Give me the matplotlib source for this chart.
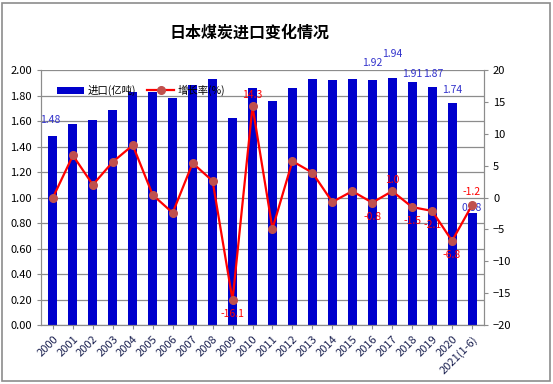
import matplotlib.pyplot as plt
import numpy as np
from matplotlib.patches import Rectangle

plt.rcParams['font.family'] = ['Noto Sans CJK SC', 'DejaVu Sans']

# data
years = ["2000", "2001", "2002", "2003", "2004", "2005", "2006", "2007", "2008", "2009", "2010",
         "2011", "2012", "2013", "2014", "2015", "2016", "2017", "2018", "2019", "2020", "2021(1-6)"]
imports = [1.48, 1.58, 1.61, 1.69, 1.83, 1.83, 1.78, 1.88, 1.93, 1.62, 1.86,
           1.76, 1.86, 1.93, 1.92, 1.93, 1.92, 1.94, 1.91, 1.87, 1.74, 0.88]
growth = [0.0, 6.6, 2.0, 5.6, 8.2, 0.4, -2.4, 5.4, 2.6, -16.1, 14.3,
          -4.9, 5.7, 3.9, -0.7, 1.0, -0.8, 1.0, -1.5, -2.1, -6.8, -1.2]

# which points carry a value label, and pixel offset of the label centre
bar_labels = {0: (-3, 16), 16: (0, 17), 17: (0, 24), 18: (0, 8), 19: (1, 13), 20: (0, 13), 21: (0, 5)}
line_labels = {9: (0, -14), 10: (0, 11), 16: (0, -14), 17: (0, 11), 18: (0, -14),
               19: (0, -14), 20: (0, -14), 21: (0, 13)}

fig = plt.figure(figsize=(5.53, 3.84), dpi=100)
ax = fig.add_axes([0.0741, 0.1536, 0.8011, 0.664])
ax2 = ax.twinx()

x = np.arange(len(years))
bars = ax.bar(x, imports, width=0.45, color='#0000cc', label='进口(亿吨)', zorder=2)
line, = ax2.plot(x, growth, color='#ff0000', lw=1.6, marker='o', ms=5.5,
                 mfc='#c0504d', mec='#c0504d', label='增长率(%)', zorder=3)

ax.set_ylim(0, 2.0)
ax.set_yticks(np.arange(0, 2.01, 0.2))
ax.set_yticklabels([f"{v:.2f}" for v in np.arange(0, 2.01, 0.2)])
ax2.set_ylim(-20, 20)
ax2.set_yticks(range(-20, 21, 5))
ax.set_xlim(-0.6, len(years) - 0.4)
ax.set_xticks(x)
ax.set_xticklabels(years, rotation=45, ha='right', rotation_mode='anchor', color='#1a2050')

ax.grid(axis='y', color='#8c8c8c', lw=0.9, zorder=0)
ax.set_axisbelow(True)
for a in (ax, ax2):
    for s in a.spines.values():
        s.set_color('#8c8c8c')
    a.tick_params(labelsize=8, length=3, color='#8c8c8c')
ax2.spines['top'].set_visible(False)
ax.spines['top'].set_visible(False)

for i, (dx, dy) in bar_labels.items():
    ax.annotate(f"{imports[i]:.2f}", (x[i], imports[i]), xytext=(dx, dy),
                textcoords='offset pixels', ha='center', va='center', color='#3333cc', fontsize=7.5)
for i, (dx, dy) in line_labels.items():
    ax2.annotate(f"{growth[i]:.1f}", (x[i], growth[i]), xytext=(dx, dy),
                 textcoords='offset pixels', ha='center', va='center', color='#ff0000', fontsize=7.5,
                 zorder=4)

ax.legend([bars, line], ['进口(亿吨)', '增长率(%)'], loc='center left', ncol=2, frameon=False,
          fontsize=7.5, bbox_to_anchor=(0.015, 0.92), handlelength=2.6, columnspacing=1.1,
          handletextpad=0.3)

fig.text(0.452, 0.915, '日本煤炭进口变化情况', ha='center', va='center', fontsize=11.5, fontweight='bold')
fig.patches.append(Rectangle((0.004, 0.008), 0.99, 0.985, transform=fig.transFigure,
                             fill=False, edgecolor='#8c8c8c', lw=1.2))

fig.savefig('out.png', dpi=100)
